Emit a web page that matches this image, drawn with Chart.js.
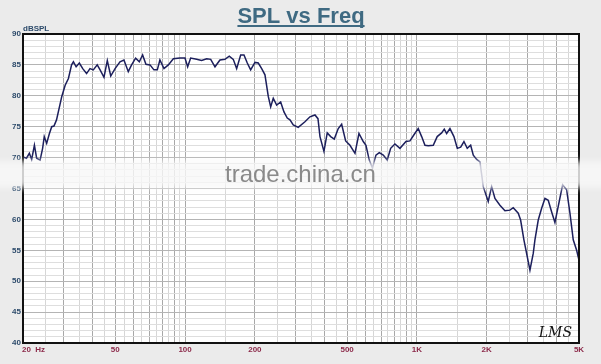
<!DOCTYPE html>
<html>
<head>
<meta charset="utf-8">
<script src="https://cdn.jsdelivr.net/npm/chart.js@4"></script>
<style>
  html, body { margin: 0; padding: 0; background: #ebebeb; }
  #wrap { width: 601px; height: 364px; }
</style>
</head>
<body>
<div id="wrap"><canvas id="grafico" width="601" height="364"></canvas></div>
<script>
const freq = [
  20, 20.7, 21.3, 21.8, 22.4, 22.9, 23.7, 24.3, 24.7, 25.3, 26.0, 26.6, 27.2, 27.9, 29.4,
  30.4, 31.4, 32.4, 33.0, 33.9, 35.0, 36.2, 37.6, 38.9, 40.2, 41.8, 43.0, 44.7, 46.2, 47.8,
  49.9, 52.4, 54.5, 56.9, 58.8, 61.2, 63.5, 65.6, 67.8, 70.6, 73.4, 75.9, 77.9, 81.1, 84.7,
  89.0, 95.1, 99.9, 102.6, 105.7, 112.2, 117.9, 123.9, 129.0, 134.6, 141.4, 148.6, 155.1, 161.4, 166.9,
  173.7, 179.5, 185.5, 191.8, 200.2, 206.9, 214.0, 221.1, 228.5, 234.0, 240.1, 248.3, 258.4, 267.0, 275.9,
  283.4, 292.8, 307.7, 328.9, 345.6, 363.3, 374.3, 381.8, 397.2, 410.4, 424.6, 440.0, 457.8, 473.5, 492.7,
  514.3, 540.5, 562.3, 586.8, 602.8, 622.9, 643.0, 665.7, 687.9, 715.8, 744.7, 770.3, 803.8, 844.8, 896.7,
  933.0, 970.9, 1013, 1048, 1083, 1119, 1176, 1223, 1278, 1312, 1343, 1388, 1444, 1493, 1544,
  1595, 1648, 1705, 1750, 1810, 1870, 1898, 1932, 2030, 2100, 2170, 2280, 2396, 2518, 2602,
  2735, 2800, 2893, 3072, 3174, 3228, 3336, 3450, 3565, 3684, 3811, 3937, 4068, 4250, 4422,
  4570, 4722, 4884, 5000
]
const spl = [
  70.1, 69.9, 70.7, 69.7, 72.0, 69.9, 69.6, 71.5, 73.4, 72.3, 73.9, 75.0, 75.1, 76.1, 79.9,
  81.7, 82.8, 85.0, 85.5, 84.7, 85.3, 84.4, 83.6, 84.4, 84.2, 85.0, 84.2, 83.0, 85.7, 83.2,
  84.4, 85.5, 85.8, 83.9, 85.0, 86.1, 85.5, 86.6, 85.1, 85.0, 84.2, 84.2, 85.8, 84.4, 85.0,
  86.0, 86.1, 86.1, 84.7, 86.1, 85.9, 85.7, 86.0, 85.9, 84.7, 85.8, 85.9, 86.4, 85.9, 84.4,
  86.6, 86.6, 85.3, 84.2, 85.4, 85.3, 84.4, 83.4, 79.9, 78.2, 79.6, 78.5, 79.0, 77.4, 76.4,
  76.1, 75.3, 74.9, 75.8, 76.6, 76.9, 76.3, 73.4, 71.0, 74.0, 73.4, 73.0, 74.7, 75.4, 72.7,
  72.0, 70.7, 73.9, 72.6, 72.0, 69.6, 68.3, 70.4, 70.8, 70.4, 69.6, 71.5, 72.2, 71.5, 72.6,
  72.7, 73.7, 74.7, 73.4, 72.0, 71.9, 72.0, 73.4, 74.0, 74.6, 73.9, 74.7, 73.4, 71.5, 71.7,
  72.6, 71.5, 72.0, 70.4, 69.7, 69.3, 67.5, 65.3, 62.9, 65.3, 63.4, 62.3, 61.4, 61.5, 61.9,
  61.0, 59.9, 56.7, 51.8, 54.5, 56.7, 59.9, 61.8, 63.4, 63.1, 61.2, 59.5, 62.1, 65.6, 64.8,
  61.0, 56.7, 55.0, 53.4
]

// vertical grid lines of the log axis
const gridFreq = [
  20, 25, 30, 35, 40, 45, 50, 55, 60, 65, 70, 75, 80, 85, 90, 95, 100,
  150, 200, 250, 300, 350, 400, 450, 500, 550, 600, 650, 700, 750, 800, 850, 900, 950, 1000,
  1500, 2000, 2500, 3000, 3500, 4000, 4500, 5000
]
const majorFreq = [20, 30, 40, 50, 60, 70, 80, 90, 100, 200, 300, 400, 500, 600, 700, 800, 900, 1000, 2000, 3000, 4000, 5000]
const xTickValues = [20, 50, 100, 200, 500, 1000, 2000, 5000]
const xTickLabels = ["20  Hz", "50", "100", "200", "500", "1K", "2K", "5K"]

const decor = {
  id: "decor",
  beforeDraw(chart) {
    const { ctx, chartArea: a } = chart
    ctx.save()
    ctx.fillStyle = "#ebebeb"
    ctx.fillRect(0, 0, chart.width, chart.height)
    ctx.fillStyle = "#ffffff"
    ctx.fillRect(a.left, a.top, a.right - a.left, a.bottom - a.top)
    ctx.restore()
  },
  afterDraw(chart) {
    const { ctx, chartArea: a } = chart
    const x = chart.scales.x
    ctx.save()
    // frame
    ctx.strokeStyle = "#111"
    ctx.lineWidth = 2
    ctx.strokeRect(a.left, a.top, a.right - a.left, a.bottom - a.top)

    // title
    ctx.fillStyle = "#3f6a82"
    ctx.font = "bold 22px 'Liberation Sans', Arial, sans-serif"
    ctx.textAlign = "center"
    ctx.textBaseline = "alphabetic"
    ctx.fillText("SPL vs Freq", 301, 23)
    const tw = ctx.measureText("SPL vs Freq").width
    ctx.fillRect(301 - tw / 2, 25, tw, 2)

    // unit
    ctx.fillStyle = "#2d4b6b"
    ctx.font = "bold 8px 'Liberation Sans', Arial, sans-serif"
    ctx.textAlign = "left"
    ctx.fillText("dBSPL", 23, 31)

    // x labels
    ctx.fillStyle = "#8c2a4a"
    ctx.textBaseline = "middle"
    xTickValues.forEach((v, i) => {
      const px = x.getPixelForValue(v)
      ctx.textAlign = i === 0 ? "left" : "center"
      ctx.fillText(xTickLabels[i], i === 0 ? px - 1 : px, 350)
    })

    // LMS mark
    ctx.fillStyle = "#111"
    ctx.font = "italic 14px 'DejaVu Serif', serif"
    ctx.textAlign = "right"
    ctx.textBaseline = "alphabetic"
    ctx.fillText("LMS", 572, 337)

    // watermark band
    ctx.filter = "blur(3px)"
    ctx.fillStyle = "rgba(248,248,248,0.82)"
    ctx.fillRect(-10, 161, chart.width + 20, 27)
    ctx.filter = "none"
    ctx.fillStyle = "#8a8a8a"
    ctx.font = "24px 'Liberation Sans', Arial, sans-serif"
    ctx.textAlign = "left"
    ctx.fillText("trade.china.cn", 225, 182)
    ctx.restore()
  },
}

const graph = document.querySelector("#grafico")
const data = {
  datasets: [
    {
      label: "SPL",
      data: freq.map((f, i) => ({ x: f, y: spl[i] })),
      borderColor: "#1c1f5c",
      borderWidth: 1.5,
      pointRadius: 0,
      tension: 0,
    },
  ],
}

const config = {
  type: "line",
  data: data,
  options: {
    responsive: false,
    animation: false,
    layout: { padding: { top: 34, right: 22, left: 0, bottom: 0 } },
    plugins: {
      legend: { display: false },
      tooltip: { enabled: false },
    },
    scales: {
      x: {
        type: "logarithmic",
        min: 20,
        max: 5000,
        afterBuildTicks: (scale) => {
          scale.ticks = gridFreq.map((v) => ({ value: v }))
        },
        afterFit: (scale) => {
          scale.height = 21
        },
        ticks: { display: false },
        border: { display: false },
        grid: {
          drawTicks: false,
          color: (c) => (majorFreq.includes(c.tick.value) ? "#a8a8a8" : "#d6d6d6"),
        },
      },
      y: {
        min: 40,
        max: 90,
        afterFit: (scale) => {
          scale.width = 23
        },
        ticks: {
          stepSize: 1,
          autoSkip: false,
          padding: 2,
          color: "#2d4b6b",
          font: { size: 8, weight: "bold", family: "'Liberation Sans', Arial, sans-serif" },
          callback: (v) => (v % 5 === 0 ? String(v) : ""),
        },
        border: { display: false },
        grid: {
          drawTicks: false,
          color: (c) => (c.tick.value % 5 === 0 ? "#b4b4b4" : "#dedede"),
        },
      },
    },
  },
  plugins: [decor],
}

new Chart(graph, config)
</script>
</body>
</html>
